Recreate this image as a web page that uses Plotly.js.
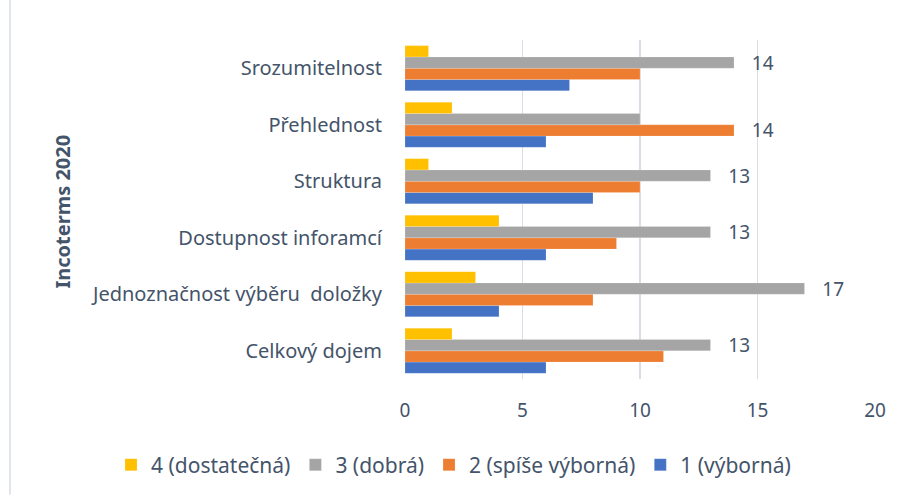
<!DOCTYPE html>
<html>
<head>
<meta charset="utf-8">
<script src="https://cdn.plot.ly/plotly-3.0.1.min.js"></script>
<style>html,body{margin:0;padding:0;background:#fff;}#chart{width:902px;height:496px;}</style>
</head>
<body>
<div id="chart"></div>
<script>
var categories = ["Celkový dojem", "Jednoznačnost výběru\u00a0 doložky", "Dostupnost inforamcí", "Struktura", "Přehlednost", "Srozumitelnost"];
var seriesNames = ["1 (výborná)", "2 (spíše výborná)", "3 (dobrá)", "4 (dostatečná)"];
var s1 = [6, 4, 6, 8, 6, 7];
var s2 = [11, 8, 9, 10, 14, 10];
var s3 = [13, 17, 13, 13, 10, 14];
var s4 = [2, 3, 4, 1, 2, 1];
var xTicks = [0, 5, 10, 15, 20];
var colors = ["#4472C4", "#ED7D31", "#A5A5A5", "#FFC000"];

var allSeries = [s1, s2, s3, s4];
var textColor = "#44546A";
var font = "Noto Sans, Open Sans, sans-serif";

var traces = allSeries.map(function (vals, si) {
  var txt = vals.map(function (v, ci) {
    var mx = Math.max.apply(null, allSeries.map(function (s) { return s[ci]; }));
    return v === mx ? "\u00a0\u00a0\u00a0" + v : "";
  });
  return {
    type: "bar",
    orientation: "h",
    name: seriesNames[si],
    x: vals,
    y: categories,
    text: txt,
    textposition: "outside",
    constraintext: "none",
    cliponaxis: false,
    textfont: {family: font, size: 19, color: textColor},
    marker: {color: colors[si], line: {color: "rgba(255,255,255,0.35)", width: 0.5}},
    hoverinfo: "x+name"
  };
});

var L = 405, W = 470, T = 40, H = 340;
var layout = {
  width: 902, height: 496,
  margin: {l: L, r: 902 - L - W, t: T, b: 496 - T - H, pad: 0},
  barmode: "group",
  bargap: 0.2,
  bargroupgap: 0,
  paper_bgcolor: "#fff",
  plot_bgcolor: "#fff",
  font: {family: font, color: textColor, size: 20},
  showlegend: true,
  legend: {
    orientation: "h",
    traceorder: "reversed",
    xref: "paper", yref: "paper",
    x: (111 - L) / W, xanchor: "left",
    y: (380 - 465) / H, yanchor: "middle",
    font: {family: font, size: 21, color: textColor},
    itemwidth: 30
  },
  xaxis: {
    range: [0, 20],
    tickvals: xTicks,
    ticktext: xTicks.map(String),
    showgrid: true,
    gridcolor: "#D9DEE6",
    gridwidth: 1.5,
    zeroline: false,
    showline: false,
    ticks: "",
    ticklen: 0,
    ticklabelstandoff: 18,
    tickfont: {family: font, size: 19, color: textColor},
    automargin: false
  },
  yaxis: {
    showgrid: false,
    zeroline: false,
    showline: false,
    ticks: "",
    ticklabelstandoff: 22,
    tickfont: {family: font, size: 20, color: textColor},
    automargin: false
  },
  annotations: [{
    text: "<b>Incoterms 2020</b>",
    xref: "paper", yref: "paper",
    x: (62 - L) / W, y: (380 - 212) / H,
    xanchor: "center", yanchor: "middle",
    textangle: -90,
    showarrow: false,
    font: {family: font, size: 20, color: textColor}
  }],
  shapes: [{
    type: "line", xref: "paper", yref: "paper",
    x0: (10 - L) / W, x1: (10 - L) / W,
    y0: (380 - 0) / H, y1: (380 - 496) / H,
    line: {color: "#E1E5EC", width: 2}
  }]
};

Plotly.newPlot("chart", traces, layout, {displayModeBar: false, staticPlot: true});
</script>
</body>
</html>
